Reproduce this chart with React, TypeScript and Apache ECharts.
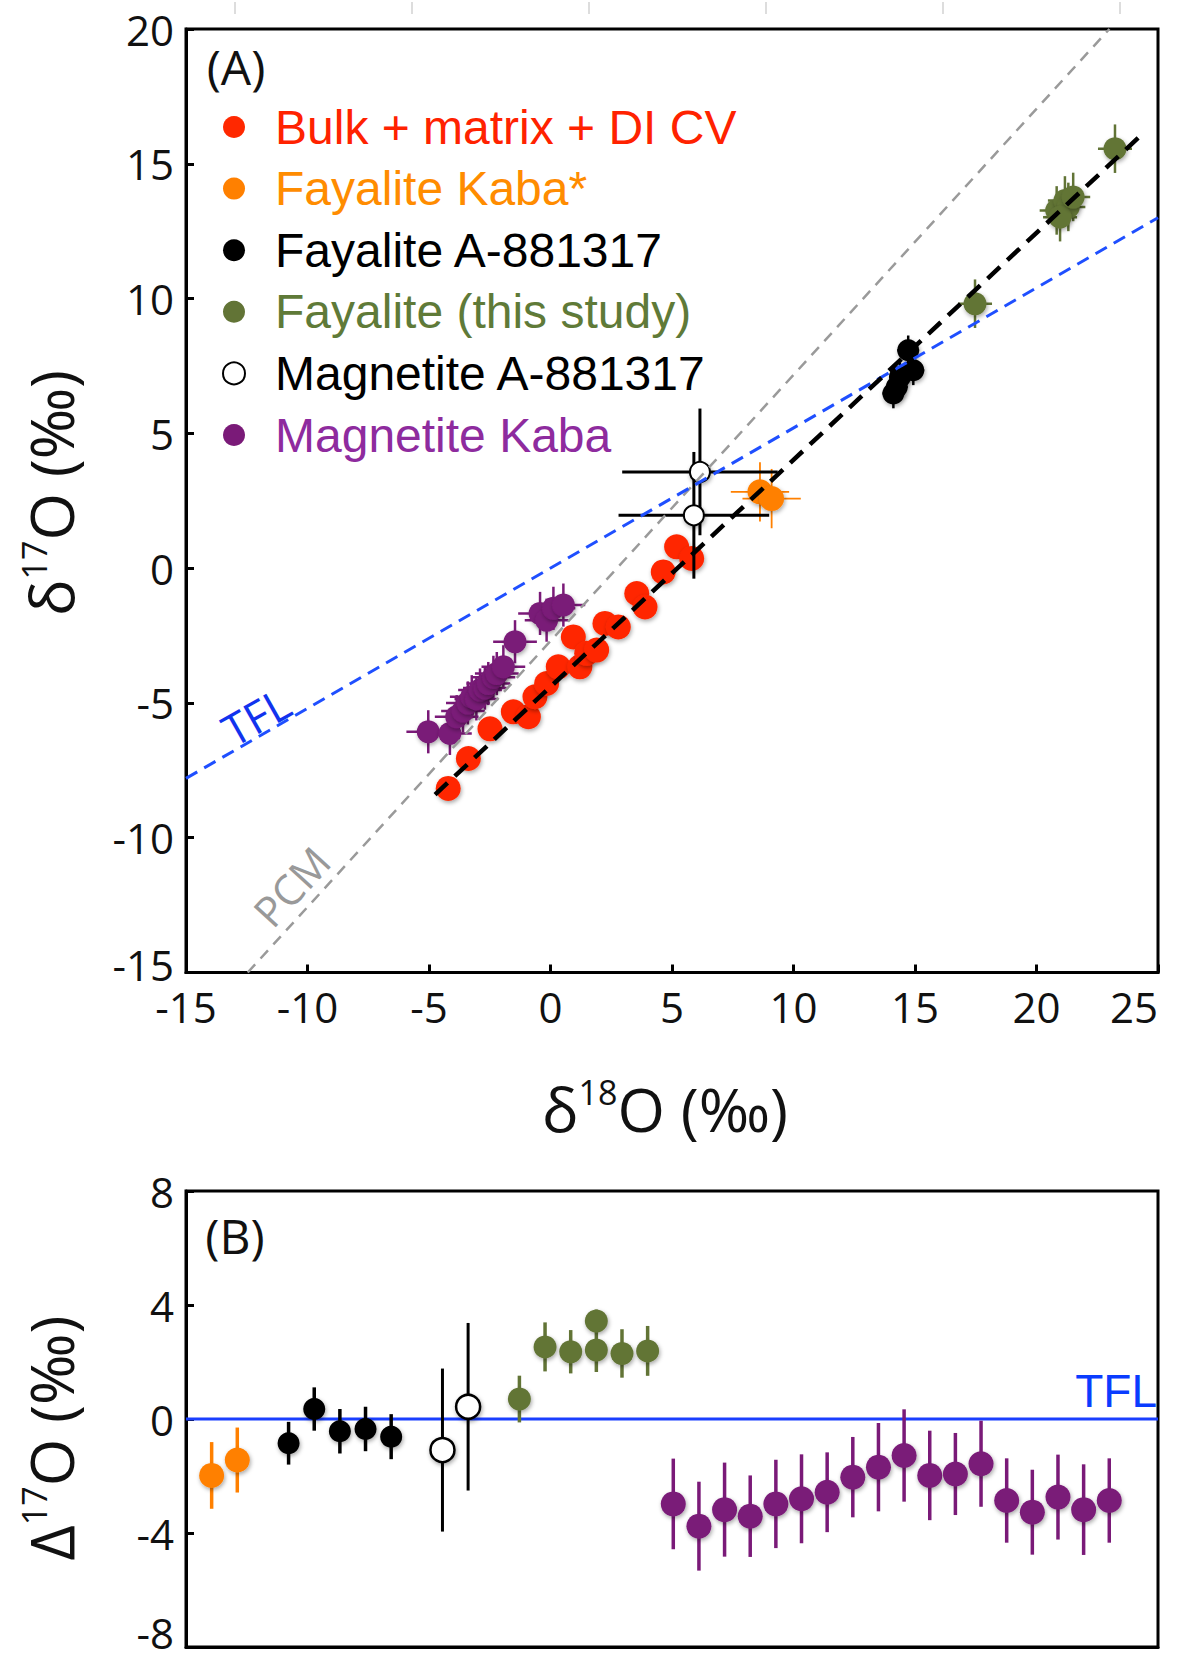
import React, { useEffect, useRef } from "react";
import * as echarts from "echarts";

// ---------- Panel (A): δ18O (x) vs δ17O (y), ‰ ----------
const bulkD18 = [-4.21, -3.38, -2.49, -1.53, -0.91, -0.64, -0.16, 0.32, 0.94, 1.21, 1.49, 1.9, 2.24, 2.79, 3.55, 3.89, 4.64, 5.19, 5.81];
const bulkD17 = [-8.17, -7.06, -5.96, -5.33, -5.51, -4.77, -4.28, -3.66, -2.55, -3.66, -3.16, -3.04, -2.05, -2.18, -0.94, -1.44, -0.14, 0.79, 0.36];

const fayKabaD18 = [8.62, 9.1];
const fayKabaD17 = [2.83, 2.58];
const fayKabaErr18 = [1.2, 1.2];
const fayKabaErr17 = [1.1, 1.1];

const fayAD18 = [14.72, 14.93, 14.38, 14.25, 14.11];
const fayAD17 = [8.08, 7.34, 7.09, 6.72, 6.48];
const fayAErr18 = [0.45, 0.45, 0.45, 0.45, 0.45];
const fayAErr17 = [0.55, 0.55, 0.55, 0.55, 0.55];

const fayStudyD18 = [17.47, 20.83, 21.17, 21.31, 20.97, 21.51, 23.23];
const fayStudyD17 = [9.81, 13.27, 13.64, 13.4, 13.02, 13.77, 15.56];
const fayStudyErr18 = [0.7, 0.7, 0.7, 0.7, 0.7, 0.7, 0.7];
const fayStudyErr17 = [0.9, 0.9, 0.9, 0.9, 0.9, 0.9, 0.9];

const magAD18 = [6.15, 5.9];
const magAD17 = [3.57, 1.96];
const magAErr18 = [3.2, 3.1];
const magAErr17 = [2.35, 2.35];

const magKabaD18 = [-5.03, -4.14, -3.86, -3.6, -3.4, -3.24, -3.05, -2.9, -2.7, -2.56, -2.35, -2.21, -1.94, -1.46, -0.43, -0.16, 0.12, 0.53];
const magKabaD17 = [-6.07, -6.13, -5.51, -5.3, -5.0, -4.77, -4.85, -4.52, -4.45, -4.28, -4.05, -3.91, -3.66, -2.73, -1.68, -1.93, -1.49, -1.37];
const magKabaErr18 = [0.9, 0.9, 0.9, 0.9, 0.9, 0.9, 0.9, 0.9, 0.9, 0.9, 0.9, 0.9, 0.9, 0.9, 0.9, 0.9, 0.9, 0.9];
const magKabaErr17 = [0.8, 0.8, 0.8, 0.8, 0.8, 0.8, 0.8, 0.8, 0.8, 0.8, 0.8, 0.8, 0.8, 0.8, 0.8, 0.8, 0.8, 0.8];

// reference lines: end points
const pcmLine = [[-12.46, -15], [23.0, 20]];
const tflLine = [[-15, -7.8], [25, 13.0]];
const cvFitLine = [[-4.75, -8.4], [24.35, 16.1]];

// ---------- Panel (B): Δ17O (‰) by analysis ----------
const bOrangeIdx = [1, 2];
const bOrangeVal = [-1.98, -1.44];
const bOrangeErr = [1.17, 1.14];

const bBlackIdx = [4, 5, 6, 7, 8];
const bBlackVal = [-0.85, 0.35, -0.43, -0.35, -0.62];
const bBlackErr = [0.75, 0.76, 0.78, 0.78, 0.79];

const bOpenIdx = [10, 11];
const bOpenVal = [-1.09, 0.43];
const bOpenErr = [2.86, 2.94];

const bGreenIdx = [13, 14, 15, 16, 16, 17, 18];
const bGreenVal = [0.7, 2.53, 2.36, 3.44, 2.42, 2.3, 2.39];
const bGreenErr = [0.82, 0.86, 0.76, 0.4, 0.77, 0.85, 0.875];

const bPurpleIdx = [19, 20, 21, 22, 23, 24, 25, 26, 27, 28, 29, 30, 31, 32, 33, 34, 35, 36];
const bPurpleVal = [-2.98, -3.76, -3.18, -3.41, -2.98, -2.8, -2.57, -2.04, -1.69, -1.28, -1.98, -1.93, -1.57, -2.86, -3.27, -2.74, -3.18, -2.86];
const bPurpleErr = [1.59, 1.56, 1.65, 1.43, 1.55, 1.56, 1.4, 1.41, 1.55, 1.62, 1.57, 1.44, 1.51, 1.48, 1.49, 1.49, 1.59, 1.48];

const tflZeroLine = [[0, 0], [37.9, 0]];

// axis ticks
const aXMin = -15, aXMax = 25, aXStep = 5;
const aYMin = -15, aYMax = 20, aYStep = 5;
const bYMin = -8, bYMax = 8, bYStep = 4;
const bXMin = 0, bXMax = 37.9;

// names / colours
const N_BULK = "Bulk + matrix + DI CV";
const N_FKABA = "Fayalite Kaba*";
const N_FA = "Fayalite A-881317";
const N_FSTUDY = "Fayalite (this study)";
const N_MA = "Magnetite A-881317";
const N_MKABA = "Magnetite Kaba";

const C_RED = "#FF2800";
const C_ORANGE = "#FF8000";
const C_BLACK = "#000000";
const C_GREEN = "#627436";
const C_PURPLE = "#7A1A78";
const C_BLUE = "#1F4FFF";
const C_GRAY = "#9A9A9A";

const F_TICK = '"Open Sans", "DejaVu Sans", sans-serif';
const F_LEG = '"Liberation Sans", Arial, sans-serif';

const zip2 = (a: number[], b: number[]) => a.map((v, i) => [v, b[i]]);
const zip4 = (a: number[], b: number[], c: number[], d: number[]) => a.map((v, i) => [v, b[i], c[i], d[i]]);
const zeros = (n: number) => new Array(n).fill(0);

const shadow = { shadowBlur: 4, shadowColor: "rgba(0,0,0,0.35)", shadowOffsetX: 1, shadowOffsetY: 2 };

function errSeries(name: string, grid: number, data: number[][], color: string, width: number, z: number) {
  return {
    type: "custom",
    name,
    xAxisIndex: grid,
    yAxisIndex: grid,
    z,
    silent: true,
    encode: { x: 0, y: 1 },
    data,
    renderItem: (params: any, api: any) => {
      const x = api.value(0);
      const y = api.value(1);
      const xe = api.value(2);
      const ye = api.value(3);
      const children: any[] = [];
      if (ye > 0) {
        const a = api.coord([x, y - ye]);
        const b = api.coord([x, y + ye]);
        children.push({ type: "line", shape: { x1: a[0], y1: a[1], x2: b[0], y2: b[1] }, style: { stroke: color, lineWidth: width } });
      }
      if (xe > 0) {
        const a = api.coord([x - xe, y]);
        const b = api.coord([x + xe, y]);
        children.push({ type: "line", shape: { x1: a[0], y1: a[1], x2: b[0], y2: b[1] }, style: { stroke: color, lineWidth: width } });
      }
      return { type: "group", children };
    },
  };
}

function scatter(name: string, grid: number, data: number[][], color: string, size: number, z: number, extra: any = {}) {
  return {
    type: "scatter",
    name,
    xAxisIndex: grid,
    yAxisIndex: grid,
    data,
    symbol: "circle",
    symbolSize: size,
    z,
    silent: true,
    itemStyle: { color, opacity: 1, ...shadow, ...extra },
  };
}

function refLine(name: string, grid: number, data: number[][], color: string, width: number, type: any, z: number) {
  return {
    type: "line",
    name,
    xAxisIndex: grid,
    yAxisIndex: grid,
    data,
    symbol: "none",
    silent: true,
    z,
    lineStyle: { color, width, type },
  };
}

function richTitle(main: string, sup: string, rest: string, size: number) {
  return {
    text: `{m|${main}}{s|${sup}}{m|${rest}}`,
    rich: {
      m: { fontSize: size, fontFamily: F_TICK, fill: "#111", lineHeight: size + 6 },
      s: { fontSize: Math.round(size * 0.55), fontFamily: F_TICK, fill: "#111", lineHeight: Math.round(size * 0.55), verticalAlign: "top" },
    },
    align: "center",
    verticalAlign: "middle",
  };
}

export default function App() {
  const ref = useRef<HTMLDivElement>(null);

  useEffect(() => {
    if (!ref.current) return;
    const chart = echarts.init(ref.current, undefined, { renderer: "svg" });

    const axisLine = { show: true, onZero: false, lineStyle: { color: "#000", width: 3 } };
    const axisTick = { show: true, inside: true, length: 8, lineStyle: { color: "#000", width: 3 } };
    const yLabel = (minVal: number, padBottom: number, lh: number) => ({
      fontSize: 42,
      lineHeight: 28,
      color: "#111",
      fontFamily: F_TICK,
      margin: 12,
      formatter: (v: number) => (v === minVal ? `{lift|${v}}` : `${v}`),
      rich: { lift: { fontSize: 42, lineHeight: lh, color: "#111", fontFamily: F_TICK, padding: [0, 0, padBottom, 0] } },
    });
    const xLabel = { fontSize: 42, lineHeight: 28, color: "#111", fontFamily: F_TICK, margin: 20, alignMaxLabel: "right" };

    const option: any = {
      animation: false,
      backgroundColor: "#ffffff",
      grid: [
        { left: 186, top: 29, width: 972, height: 943.5, show: true, borderColor: "#000", borderWidth: 3, backgroundColor: "transparent", outerBoundsMode: "none", containLabel: false },
        { left: 186, top: 1191, width: 972, height: 456, show: true, borderColor: "#000", borderWidth: 3, backgroundColor: "transparent", outerBoundsMode: "none", containLabel: false },
      ],
      xAxis: [
        { type: "value", gridIndex: 0, min: aXMin, max: aXMax, interval: aXStep, axisLine, axisTick, axisLabel: xLabel, splitLine: { show: false } },
        { type: "value", gridIndex: 1, min: bXMin, max: bXMax, axisLine, axisTick: { show: false }, axisLabel: { show: false }, splitLine: { show: false } },
      ],
      yAxis: [
        { type: "value", gridIndex: 0, min: aYMin, max: aYMax, interval: aYStep, axisLine, axisTick, axisLabel: yLabel(aYMin, 16, 28), splitLine: { show: false } },
        { type: "value", gridIndex: 1, min: bYMin, max: bYMax, interval: bYStep, axisLine, axisTick, axisLabel: yLabel(bYMin, 30, 2), splitLine: { show: false } },
      ],
      legend: {
        orient: "vertical",
        left: 222,
        top: 103,
        padding: 0,
        itemWidth: 72,
        itemHeight: 22,
        itemGap: 13.6,
        selectedMode: false,
        textStyle: { fontSize: 48, lineHeight: 48, fontFamily: F_LEG },
        data: [
          { name: N_BULK, textStyle: { color: "#FF2200" } },
          { name: N_FKABA, textStyle: { color: "#FF8C00" } },
          { name: N_FA, textStyle: { color: "#000000" } },
          { name: N_FSTUDY, textStyle: { color: "#5F7A38" } },
          { name: N_MA, textStyle: { color: "#000000" } },
          { name: N_MKABA, textStyle: { color: "#8E2B9E" } },
        ],
      },
      series: [
        // ---- panel A ----
        scatter(N_BULK, 0, zip2(bulkD18, bulkD17), C_RED, 25, 2),
        errSeries("errMagKaba", 0, zip4(magKabaD18, magKabaD17, magKabaErr18, magKabaErr17), C_PURPLE, 2.5, 3),
        errSeries("errFayKaba", 0, zip4(fayKabaD18, fayKabaD17, fayKabaErr18, fayKabaErr17), C_ORANGE, 1.8, 3),
        errSeries("errMagA", 0, zip4(magAD18, magAD17, magAErr18, magAErr17), C_BLACK, 3, 3),
        errSeries("errFayA", 0, zip4(fayAD18, fayAD17, fayAErr18, fayAErr17), C_BLACK, 2.5, 3),
        errSeries("errFayStudy", 0, zip4(fayStudyD18, fayStudyD17, fayStudyErr18, fayStudyErr17), C_GREEN, 2.5, 3),
        scatter(N_MKABA, 0, zip2(magKabaD18, magKabaD17), C_PURPLE, 23, 4),
        scatter(N_FKABA, 0, zip2(fayKabaD18, fayKabaD17), C_ORANGE, 25, 4),
        scatter(N_MA, 0, zip2(magAD18, magAD17), "#ffffff", 20, 4, { borderColor: "#000", borderWidth: 2 }),
        scatter(N_FA, 0, zip2(fayAD18, fayAD17), C_BLACK, 22, 4),
        scatter(N_FSTUDY, 0, zip2(fayStudyD18, fayStudyD17), C_GREEN, 23, 4),
        refLine("PCM", 0, pcmLine, C_GRAY, 2.5, [11, 8], 5),
        refLine("TFL", 0, tflLine, C_BLUE, 3, [13, 8], 5),
        refLine("CV fit", 0, cvFitLine, C_BLACK, 4.5, [17, 10], 6),
        // ---- panel B ----
        refLine("TFL0", 1, tflZeroLine, "#1A3FFF", 3, "solid", 1),
        errSeries("bErrOrange", 1, zip4(bOrangeIdx, bOrangeVal, zeros(bOrangeIdx.length), bOrangeErr), C_ORANGE, 3.5, 3),
        errSeries("bErrBlack", 1, zip4(bBlackIdx, bBlackVal, zeros(bBlackIdx.length), bBlackErr), C_BLACK, 3.5, 3),
        errSeries("bErrOpen", 1, zip4(bOpenIdx, bOpenVal, zeros(bOpenIdx.length), bOpenErr), C_BLACK, 3, 3),
        errSeries("bErrGreen", 1, zip4(bGreenIdx, bGreenVal, zeros(bGreenIdx.length), bGreenErr), C_GREEN, 3.5, 3),
        errSeries("bErrPurple", 1, zip4(bPurpleIdx, bPurpleVal, zeros(bPurpleIdx.length), bPurpleErr), C_PURPLE, 3.5, 3),
        scatter(N_FKABA, 1, zip2(bOrangeIdx, bOrangeVal), C_ORANGE, 25, 4),
        scatter(N_FA, 1, zip2(bBlackIdx, bBlackVal), C_BLACK, 22, 4),
        scatter(N_MA, 1, zip2(bOpenIdx, bOpenVal), "#ffffff", 24, 4, { borderColor: "#000", borderWidth: 2.5 }),
        scatter(N_FSTUDY, 1, zip2(bGreenIdx, bGreenVal), C_GREEN, 23, 4),
        scatter(N_MKABA, 1, zip2(bPurpleIdx, bPurpleVal), C_PURPLE, 25, 4),
      ],
      graphic: [
        { type: "text", x: 236, y: 66, style: { text: "(A)", fontSize: 48, fontFamily: F_TICK, fill: "#111", align: "center", verticalAlign: "middle" } },
        { type: "text", x: 235, y: 1235, style: { text: "(B)", fontSize: 48, fontFamily: F_TICK, fill: "#111", align: "center", verticalAlign: "middle" } },
        { type: "text", x: 256, y: 716, rotation: (29.5 * Math.PI) / 180, style: { text: "TFL", fontSize: 44, fontFamily: F_TICK, fill: "#1133EE", align: "center", verticalAlign: "middle" } },
        { type: "text", x: 291, y: 886, rotation: (47.6 * Math.PI) / 180, style: { text: "PCM", fontSize: 42, fontFamily: F_TICK, fill: "#999999", align: "center", verticalAlign: "middle" } },
        { type: "text", x: 1157, y: 1391, style: { text: "TFL", fontSize: 46, fontFamily: F_LEG, fill: "#0A3CFF", align: "right", verticalAlign: "middle" } },
        { type: "text", x: 665, y: 1108, style: richTitle("δ", "18", "O (‰)", 61) },
        { type: "text", x: 50, y: 493, rotation: Math.PI / 2, style: richTitle("δ", "17", "O (‰)", 61) },
        { type: "text", x: 50, y: 1438, rotation: Math.PI / 2, style: richTitle("Δ", "17", "O (‰)", 61) },
        ...[235, 412, 589, 766, 943, 1120].map((x) => ({ type: "line", shape: { x1: x, y1: 2, x2: x, y2: 14 }, style: { stroke: "#dddddd", lineWidth: 2 } })),
      ],
    };

    chart.setOption(option);
    return () => chart.dispose();
  }, []);

  return <div ref={ref} style={{ position: "absolute", left: 0, top: 0, width: 1178, height: 1661, background: "#fff" }} />;
}
